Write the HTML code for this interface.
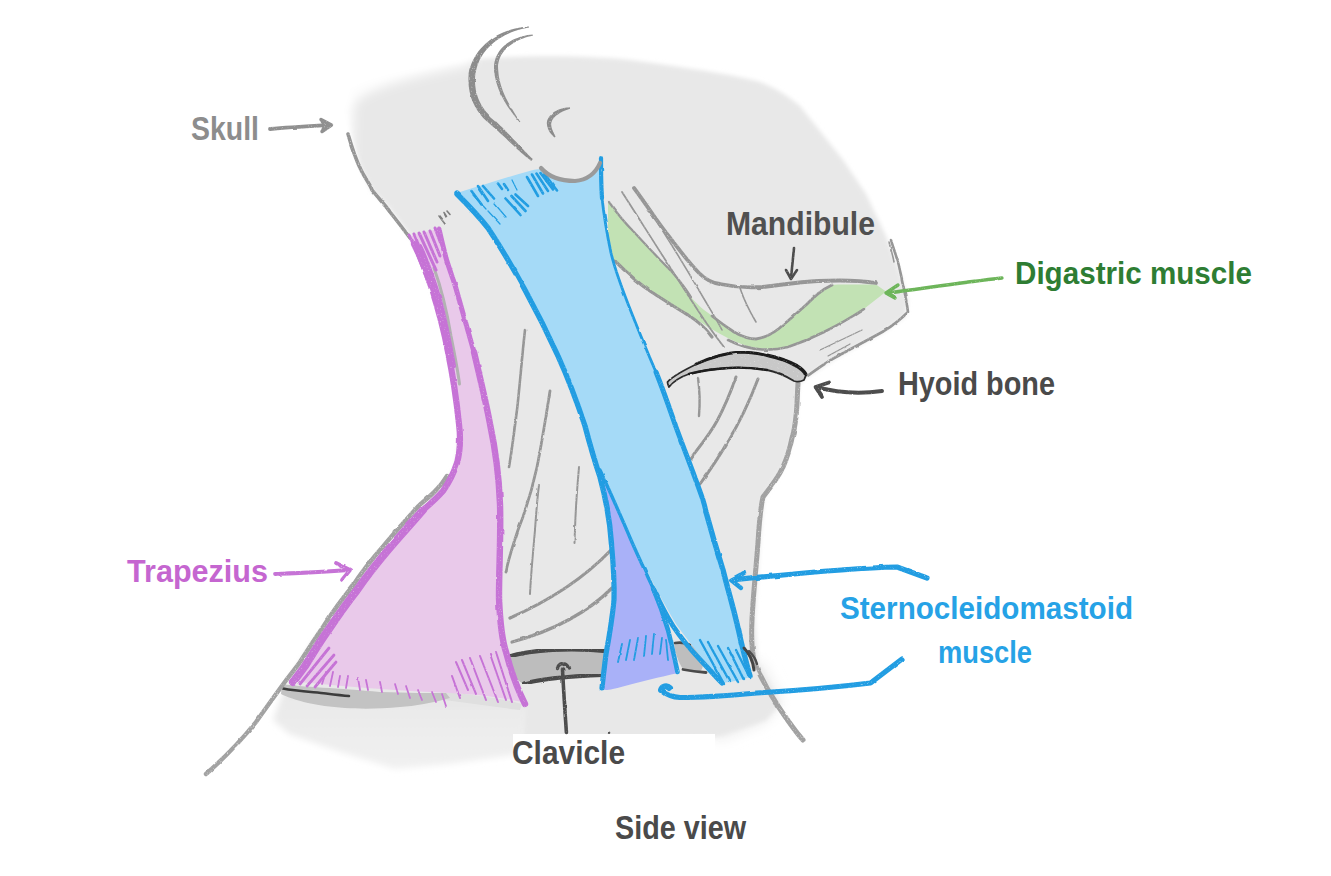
<!DOCTYPE html>
<html>
<head>
<meta charset="utf-8">
<title>Side view of neck muscles</title>
<style>
  html, body { margin: 0; padding: 0; background: #ffffff; }
  body { width: 1331px; height: 876px; overflow: hidden; font-family: "Liberation Sans", sans-serif; }
  svg { display: block; }
  text { font-family: "Liberation Sans", sans-serif; font-weight: bold; }
</style>
</head>
<body>
<svg width="1331" height="876" viewBox="0 0 1331 876">
  <defs>
    <filter id="soft" x="-5%" y="-5%" width="110%" height="110%"><feGaussianBlur stdDeviation="2.2"/></filter>
    <filter id="soft1" x="-5%" y="-5%" width="110%" height="110%"><feGaussianBlur stdDeviation="0.6"/></filter>
    <filter id="soft3" x="-10%" y="-10%" width="120%" height="120%"><feGaussianBlur stdDeviation="3"/></filter>
    <filter id="soft7u" filterUnits="userSpaceOnUse" x="290" y="10" width="300" height="240"><feGaussianBlur stdDeviation="6"/></filter>
    <filter id="soft6" x="-10%" y="-10%" width="120%" height="120%"><feGaussianBlur stdDeviation="7"/></filter>
    <filter id="rough" x="-2%" y="-2%" width="104%" height="104%" filterUnits="objectBoundingBox">
      <feTurbulence type="fractalNoise" baseFrequency="0.09" numOctaves="2" seed="7" result="n"/>
      <feDisplacementMap in="SourceGraphic" in2="n" scale="2.2" xChannelSelector="R" yChannelSelector="G" result="d"/>
      <feTurbulence type="fractalNoise" baseFrequency="0.7" numOctaves="2" seed="3" result="g"/>
      <feColorMatrix in="g" type="matrix" values="0 0 0 0 0  0 0 0 0 0  0 0 0 0 0  0 0 0 -2.4 2.45" result="gm"/>
      <feComposite in="d" in2="gm" operator="in"/>
    </filter>
    <filter id="rough2" x="-2%" y="-2%" width="104%" height="104%" filterUnits="objectBoundingBox">
      <feTurbulence type="fractalNoise" baseFrequency="0.08" numOctaves="2" seed="11" result="n"/>
      <feDisplacementMap in="SourceGraphic" in2="n" scale="2" xChannelSelector="R" yChannelSelector="G" result="d"/>
      <feTurbulence type="fractalNoise" baseFrequency="0.7" numOctaves="2" seed="5" result="g"/>
      <feColorMatrix in="g" type="matrix" values="0 0 0 0 0  0 0 0 0 0  0 0 0 0 0  0 0 0 -2.4 2.55" result="gm"/>
      <feComposite in="d" in2="gm" operator="in"/>
    </filter>
    <linearGradient id="shade" x1="0" y1="0" x2="0" y2="1">
      <stop offset="0" stop-color="#e8e8e8"/>
      <stop offset="1" stop-color="#f1f1f1"/>
    </linearGradient>
  </defs>
  <rect width="1331" height="876" fill="#ffffff"/>

  <!-- ===== grey head / neck silhouette ===== -->
  <g id="silhouette">
    <!-- lower shoulder shadow -->
    <path filter="url(#soft6)" fill="#ebebeb" d="M700,700 L716,741 L764,722 L782,702 L760,660 Z"/>
    <path filter="url(#soft3)" fill="url(#shade)" d="M284,690 L273,720 L289,734 L340,752 L395,769 L450,764 L514,755 L524,748 L528,700 L400,690 Z"/>
    <path filter="url(#soft)" fill="#e8e8e8" d="M352,92 C362,82 400,72 471,60 C520,55 580,55 630,60 C690,68 740,76 760,82 C780,90 790,98 800,106 L843,160 L866,194 L886,236 L900,272 L908,300 L906,316 L884,332 L838,357 L806,378 L799,384 L797,416 L793,438 L784,467 L764,497 L760,541 L755,620 L758,663 L780,704 L766,720 L716,737 L522,746 L524,708 L420,708 L300,700 L286,682 L312,642 L349,596 L389,550 L437,494 L455,467 L460,433 L455,387 L445,330 L428,276 L410,236 L389,208 L371,190 L360,166 L350,134 L346,110 Z"/>
    <path filter="url(#soft7u)" fill="none" stroke="#ffffff" stroke-width="17" stroke-linecap="round" stroke-linejoin="round" d="M343,160 L345,104 C350,84 400,70 466,57"/>
  </g>

  <!-- ===== clavicle + shoulder band ===== -->
  <g id="clavicle">
    <!-- shoulder band under trapezius -->
    <path filter="url(#soft1)" fill="#dfdfdf" d="M440,692 C470,694 500,698 522,704 L520,710 C495,707 470,703 444,700 Z"/>
    <path filter="url(#soft1)" fill="#c3c3c3" d="M282,684 C300,687 340,688 380,692 C410,693 430,693 446,693 L450,698 C432,703 415,706 400,707 C380,709 360,709 345,708 C330,707 318,705 308,703 C296,700 287,697 281,694 Z"/>
    <path fill="none" stroke="#3c3c3c" stroke-width="2.6" stroke-linecap="round" d="M283,688.5 C295,691 312,692 326,693.5 C334,694.5 342,695.5 349,696"/>
    <!-- clavicle main -->
    <path fill="#bdbdbd" d="M508,657 C530,650 570,647 610,651 L604,676 C570,676 540,678 523,684 C512,676 508,666 508,657 Z"/>
    <path filter="url(#rough2)" fill="none" stroke="#484848" stroke-width="4.2" stroke-linecap="round" d="M509,656.5 C530,650 570,647 610,651.5"/>
    <path filter="url(#rough2)" fill="none" stroke="#484848" stroke-width="4.2" stroke-linecap="round" d="M524,683.5 C545,678 575,676 603,675"/>
    <!-- clavicle segment between heads -->
    <path fill="#bebebe" d="M674,643 C680,642 688,643 693,646 C699,650 703,656 703,663 C703,667 702,670 700,671 L683,669 C678,662 675,652 674,643 Z"/>
    <path fill="none" stroke="#4a4a4a" stroke-width="2.6" stroke-linecap="round" d="M675,643 C682,642 686,643 690,645"/>
    <path fill="none" stroke="#4a4a4a" stroke-width="2.8" stroke-linecap="round" d="M683,669.5 C690,671 698,672 706,672.5"/>
    <!-- clavicle right end -->
  </g>

  <!-- ===== digastric (green) – drawn under pencil lines ===== -->
  <g id="digastric">
    <path fill="#c2e2b4" d="M608,201 C614,210 620,217 627,224 C634,232 640,239 647,246 C655,254 662,262 670,270 C678,279 684,288 690,296 C700,308 708,313 716,318 C722,323 728,328 734,332 C741,336 748,339 756,339 C764,338 772,334 779,328.5 C788,321 797,313 806,305 C814,297 821,290 828,286 C833,284.5 837,284.5 841,284.5 L876,284.5 L886,291.5 C878,298 869,305 860,312 C848,320 836,326 824,332 C812,338 800,343 788,346.5 C779,349 770,349.5 761,348.5 C752,347.5 743,345 734,341 C724,336 716,332 708,327 C700,321 690,316 681,311 C668,304 656,296 644,287 C632,278 622,268 613,260 C610,250 608,238 608,226 Z"/>
  </g>

  <!-- ===== grey pencil lines ===== -->
  <g id="pencil" filter="url(#rough)" fill="none" stroke="#969696" stroke-width="3.8" stroke-linecap="round" stroke-linejoin="round">
    <!-- ear -->
    <path d="M528.9,26.4 L525.1,26.7 L521.4,27.2 L517.7,27.9 L514.1,28.7 L510.5,29.7 L507.0,30.9 L503.6,32.2 L500.3,33.7 L497.2,35.3 L494.1,37.1 L491.2,39.1 L488.4,41.2 L485.7,43.5 L483.2,45.9 L480.8,48.4 L478.6,51.1 L476.6,53.9 L474.7,56.9 L473.1,60.0 L471.6,63.2 L470.4,66.5 L469.4,69.9 L468.7,73.5 L468.5,76.4 L468.4,79.1 L468.5,81.7 L468.6,84.3 L468.8,86.8 L469.2,89.3 L469.6,91.7 L470.2,94.1 L470.8,96.4 L471.5,98.7 L472.4,100.9 L473.3,103.0 L474.3,105.1 L475.3,107.2 L476.5,109.1 L477.7,111.0 L479.0,112.8 L480.3,114.6 L481.8,116.3 L483.2,117.9 L484.8,119.5 L486.4,121.0 L488.0,122.3 L490.0,124.1 L492.1,125.9 L494.2,127.7 L496.2,129.5 L498.2,131.3 L500.2,133.2 L502.2,135.0 L504.2,136.8 L506.1,138.6 L508.0,140.4 L509.9,142.2 L511.8,144.0 L513.7,145.8 L515.5,147.5 L517.3,149.2 L519.1,150.8 L520.9,152.4 L522.7,154.0 L524.5,155.5 L526.2,156.9 L527.9,158.3 L529.6,159.6 L531.2,160.9 L532.8,159.1 L531.3,157.7 L529.8,156.2 L528.2,154.7 L526.7,153.1 L525.1,151.5 L523.5,149.8 L521.8,148.0 L520.2,146.3 L518.5,144.5 L516.8,142.6 L515.0,140.8 L513.2,138.9 L511.4,137.0 L509.6,135.1 L507.8,133.2 L505.9,131.2 L504.0,129.3 L502.1,127.3 L500.1,125.4 L498.1,123.4 L496.1,121.5 L494.1,119.6 L492.0,117.7 L490.5,116.4 L489.1,115.0 L487.8,113.6 L486.5,112.2 L485.3,110.7 L484.1,109.1 L482.9,107.5 L481.9,105.8 L480.9,104.1 L480.0,102.3 L479.1,100.5 L478.3,98.6 L477.6,96.6 L477.0,94.6 L476.4,92.6 L475.9,90.5 L475.6,88.3 L475.3,86.1 L475.1,83.8 L475.0,81.5 L475.0,79.2 L475.1,76.8 L475.3,74.5 L475.9,71.4 L476.6,68.3 L477.5,65.3 L478.6,62.4 L479.8,59.6 L481.3,56.9 L483.0,54.3 L484.8,51.7 L486.8,49.3 L489.0,46.9 L491.3,44.7 L493.8,42.5 L496.4,40.5 L499.1,38.7 L502.0,36.9 L505.0,35.2 L508.2,33.7 L511.4,32.3 L514.8,31.1 L518.2,30.0 L521.7,29.0 L525.4,28.2 L529.1,27.6 Z" fill="#8c8c8c" stroke="none"/>
    <path d="M532.9,34.4 L530.2,34.7 L527.5,35.1 L524.8,35.7 L522.3,36.3 L519.8,37.0 L517.4,37.9 L515.1,38.8 L512.8,39.8 L510.7,40.9 L508.7,42.2 L506.8,43.6 L505.0,45.0 L503.3,46.5 L501.8,48.1 L500.3,49.8 L499.0,51.6 L497.8,53.4 L496.8,55.4 L495.9,57.3 L495.2,59.4 L494.6,61.5 L494.2,63.7 L494.0,65.9 L494.0,68.7 L494.1,71.4 L494.5,74.0 L494.9,76.6 L495.5,79.2 L496.1,81.7 L496.9,84.3 L497.7,86.8 L498.6,89.3 L499.6,91.7 L500.7,94.2 L501.9,96.6 L503.2,99.0 L504.5,101.4 L505.9,103.8 L507.4,106.2 L509.0,108.5 L510.6,110.8 L512.3,113.1 L514.1,115.4 L515.9,117.7 L517.7,120.0 L519.6,122.3 L520.4,121.7 L518.7,119.3 L517.0,116.9 L515.4,114.5 L513.9,112.1 L512.4,109.6 L511.0,107.2 L509.6,104.8 L508.3,102.4 L507.0,100.1 L505.8,97.7 L504.7,95.3 L503.7,92.9 L502.7,90.5 L501.9,88.1 L501.1,85.7 L500.4,83.2 L499.8,80.8 L499.3,78.4 L498.8,75.9 L498.5,73.5 L498.3,71.0 L498.1,68.5 L498.0,66.1 L498.2,64.2 L498.5,62.4 L499.0,60.5 L499.6,58.7 L500.3,57.0 L501.1,55.3 L502.1,53.7 L503.3,52.1 L504.5,50.6 L505.9,49.1 L507.3,47.7 L508.9,46.3 L510.7,45.0 L512.5,43.8 L514.4,42.6 L516.4,41.4 L518.5,40.3 L520.7,39.3 L523.0,38.4 L525.4,37.6 L527.9,36.8 L530.4,36.2 L533.1,35.6 Z" fill="#909090" stroke="none"/>
    <path d="M569.9,107.2 L568.3,107.4 L566.7,107.6 L565.2,107.8 L563.7,108.1 L562.3,108.4 L560.9,108.8 L559.5,109.3 L558.2,109.7 L557.0,110.3 L555.8,110.9 L554.7,111.6 L553.6,112.3 L552.7,113.1 L551.7,113.9 L550.9,114.7 L550.1,115.6 L549.4,116.5 L548.7,117.5 L548.1,118.4 L547.6,119.4 L547.2,120.5 L547.0,121.6 L546.8,122.8 L546.9,123.9 L547.0,124.7 L547.1,125.5 L547.2,126.3 L547.4,127.1 L547.7,127.8 L547.9,128.6 L548.2,129.3 L548.5,129.9 L548.8,130.6 L549.1,131.2 L549.5,131.8 L549.8,132.4 L550.3,133.0 L550.7,133.5 L551.1,134.1 L551.6,134.6 L552.0,135.1 L552.5,135.6 L553.0,136.1 L553.4,136.5 L553.9,137.0 L554.4,137.5 L555.6,136.5 L555.3,135.9 L555.0,135.4 L554.7,134.8 L554.4,134.2 L554.1,133.7 L553.8,133.1 L553.6,132.5 L553.3,131.9 L553.1,131.4 L552.8,130.8 L552.6,130.2 L552.3,129.7 L552.1,129.1 L551.9,128.6 L551.7,128.0 L551.6,127.4 L551.5,126.8 L551.3,126.2 L551.3,125.6 L551.2,125.0 L551.2,124.3 L551.2,123.7 L551.2,123.2 L551.4,122.6 L551.6,121.9 L551.8,121.2 L552.1,120.5 L552.5,119.8 L553.0,119.1 L553.5,118.3 L554.0,117.7 L554.7,117.0 L555.4,116.3 L556.2,115.6 L557.0,115.0 L557.9,114.4 L558.9,113.7 L559.9,113.1 L561.0,112.4 L562.1,111.8 L563.3,111.2 L564.5,110.7 L565.8,110.2 L567.2,109.7 L568.6,109.2 L570.1,108.8 Z" fill="#8c8c8c" stroke="none"/>
    <!-- skull/back of head -->
    <path d="M348,134 C352,148 356,160 361,170 C366,180 370,184 372,190 C380,200 386,206 390,212 C398,222 404,230 410,238" stroke-width="3.6"/>
    <path stroke="#7e7e7e" d="M439,216 L445,224 M444,212.5 L446.5,216.5 M447,211 L450,214.5" stroke-width="1.6"/>
    <!-- back of neck along trapezius -->
    <!-- neck front -->
    <path stroke="#a2a2a2" stroke-width="5" d="M798,383 C797,400 797,410 796,416 C795,426 794,432 792,438 C790,448 787,458 783,467 C778,478 770,488 763,497 C760,510 759,526 758,542 C756,570 753,596 752,620 C751,640 752,654 755,664 C762,680 770,694 778,706 C786,718 794,730 803,740"/>
    <!-- chin / jaw -->
    <path d="M891,240 C894,250 897,258 899,266 C902,280 906,296 908,312 C900,320 892,326 884,331 C868,340 852,348 838,356 C826,362 816,370 806,377" stroke-width="2.6"/>
    <path d="M889,242 C891,250 893,256 894,262" stroke-width="1.6"/>
    <path d="M862,330 L820,350 M850,344 L828,356" stroke-width="1.3"/>
    <!-- mandible -->
    <path d="M634,188 C646,204 656,220 667,234 C678,248 688,262 699,273 C706,280 712,283 720,284 C734,287 748,288 762,287 C780,285 800,282 818,281 C840,280 858,280 876,283"/>
    <path d="M622,192 C640,220 660,252 686,292 C700,314 712,332 724,347" stroke-width="1.8"/>
    <path d="M644,202 C660,226 680,258 700,292 C708,306 716,318 722,330" stroke-width="1.6"/>
    <!-- lower digastric outline -->
    <path d="M609,202 C616,212 624,222 634,232 C646,245 660,260 672,272 C680,281 686,289 691,297" stroke-width="2.2"/>
    <path d="M614,260 C626,272 638,283 650,291 C664,300 676,308 688,315 C696,320 704,326 712,337" stroke-width="3.2"/>
    <path d="M712,316 C722,324 728,328 734,332 C741,336 748,339 756,339 C764,338 772,334 779,328.5 C788,321 797,313 806,305 C814,297 821,290 832,285" stroke-width="2.8"/>
    <path d="M728,340 C740,346 752,349 762,349.5 C772,350 780,349 788,347 C800,343 812,338 824,332 C838,325 852,317 864,309" stroke-width="2.6"/>
    <path d="M740,288 C744,300 750,312 756,322" stroke-width="1.6"/>
    <!-- anterior neck folds -->
    <path d="M698,378 C700,392 700,404 699,416" stroke-width="2.4"/>
    <path d="M736,377 C730,394 724,408 717,421 C710,434 700,446 691,458" stroke-width="3"/>
    <path d="M758,379 C750,400 740,422 728,441 C720,456 710,470 700,484" stroke-width="3"/>
    <!-- mid neck lines -->
    <path d="M525,330 C522,356 520,384 517,410 C514,432 512,450 509,467" stroke-width="2.6"/>
    <path d="M550,391 C546,416 542,442 537,467 C532,490 526,510 518,530 C512,548 508,560 506,572" stroke-width="2.8"/>
    <path d="M579,467 C577,490 575.5,510 575,530 C574.7,536 574.5,540 574.5,543" stroke-width="2"/>
    <path d="M539,485 C537,500 536,516 535,530 C533,552 531,574 530,594" stroke-width="2"/>
    <!-- lower sweeping lines -->
    <path d="M611,550 C590,572 560,596 510,618" stroke-width="3.2"/>
    <path d="M612,588 C590,610 556,630 512,642" stroke-width="3.2"/>
  </g>

  <!-- ===== trapezius ===== -->
  <g id="trapezius">
    <path fill="#e9c9ea" d="M410,236 L438,229 C443,248 449,268 455,286 C462,310 468,330 472,350 C478,376 484,402 488,420 C494,450 498,476 499,500 C500,530 498,566 498,600 C500,624 502,640 505,650 C510,670 517,688 523,702 C500,697 470,693.5 430,692 C390,690 340,686 288,681 C293,676 300,670 305,666 C312,655 319,643 327.8,630.7 C337,617 346,604 356.7,590.5 C366,577 377,563 388,550 C399,537 411,524 423,510 C430,504 436,499 443,491 C448.5,483 453.5,474 457,463 C460,452 461,440 460,430 C459,418 457,402 455,387 C452,368 449,348 445,330 C440,310 434,292 428,276 C422,260 416,246 410,236 Z"/>
    <path fill="none" stroke="#b2b2b2" stroke-width="3" stroke-linecap="round" d="M434,268 C442,290 447,312 451,336 C455,356 458,372 459.5,384"/>
    <path filter="url(#rough)" fill="none" stroke="#a2a2a2" stroke-width="4.4" stroke-linecap="round" d="M447,476 C444,481 441,485 437,489 C431,496 425,500 418.5,506 C406,520 394,533 383.5,546 C372,559 361,573 352,587 C341,600 332,613 323,627 C314,640 307,651 300,662 C295,669 291,674 287,679 C276,694 266,708 256,722 C240,742 222,760 206,774"/>
    <g filter="url(#rough2)" fill="none" stroke="#c673d6" stroke-linecap="round" stroke-linejoin="round">
      <!-- left (outer) edge -->
      <path stroke-width="6.2" d="M414,244 C420,256 426,270 431,286 C438,308 444,330 448,352 C453,376 456.5,400 459,424 C461,440 460,452 457,463 C453.5,474 448.5,483 443,491 C436,499 430,504 423,510"/>
      <path stroke-width="8" d="M423,510 C411,524 399,537 388,550 C377,563 366,577 356.7,590.5 C346,604 337,617 327.8,630.7 C319,643 312,655 305,666 C300,673 296,678 293,682"/>
      <path stroke-width="4" d="M420,246 C428,262 434,280 440,300 C446,322 450,344 454,366"/>
      <!-- right (inner) edge -->
      <path stroke-width="5" d="M439,229 C442,242 444,250 446,258 C449,268 452,276 455,285 C460,302 467,328 474,352"/>
      <path stroke-width="6.4" d="M474,352 C480,378 486,402 490,424 C496,452 499,478 500,504 C501,534 499,566 499,598 C500,622 502,640 506,652 C511,672 518,690 525,704"/>
      <!-- top fibers -->
      <path stroke-width="3" d="M409,235 L424,268 M414,234 L430,272 M419,233 L436,270 M424,232 L437,262 M430,231 L440,256 M435,228 L444,252 M412,240 L428,282"/>
      <!-- bottom fibers -->
      <path stroke-width="2.8" d="M295,682 L322,643 M300,684 L329,648 M307,686 L334,655 M315,687 L336,662"/>
      <path stroke-width="1.8" d="M322,684 L326,672 M330,686 L333,672 M338,687 L340,676 M346,688 L348,676 M360,690 L358,678 M368,690 L366,680 M382,692 L380,682 M398,694 L395,684 M410,698 L406,686 M422,700 L418,690 M436,702 L432,692 M446,706 L442,694"/>
      <path stroke-width="2" d="M456,662 L468,690 M462,660 L476,694 M470,658 L486,700 M480,656 L498,702 M490,654 L506,700 M496,652 L512,702 M452,676 L460,698"/>
    </g>
  </g>

  <!-- ===== sternocleidomastoid ===== -->
  <g id="scm">
    <!-- clavicular head -->
    <path fill="#a9b1f8" d="M598,468 C604,490 608.5,514 611,540 C613,562 614,584 614,598 C612,620 608,640 606,654 C604,668 602,680 601,688 C603,691.5 610,690 623,686.5 C640,682 660,677 678,673 C674,658 671,644 667,630 C663,616 658,600 651,583 C644,568 637,553 631,540 C620,514 610,492 600,470 Z"/>
    <!-- sternal head + main belly -->
    <path fill="#a5daf7" d="M457,193 C480,186 504,178 526,172 C532,170 537,169 541,169 C548,176 560,181 575,181 C588,180 597,172 601,160 C601,172 601,184 601,196 C604,216 607,234 611,253 C616,274 624,294 632,314 C640,334 648,354 656,372 C664,392 670,410 676,427 C684,449 694,474 703,500 C704.5,505 705.5,509 706,512 C712,534 718,554 723,570 C728,590 734,610 738,628 C742,646 746,662 750,677 C742,680 732,682 722,683 C708,666 692,646 676,624 C664,604 650,578 640,556 C632,540 620,510 600,470 C592,454 586,438 580,413 C574,400 572,392 570,387 C564,368 555,350 545,330 C535,312 523,290 511,266 C501,246 490,230 480,218 C471,208 463,200 457,193 Z"/>
    <g filter="url(#rough2)" fill="none" stroke="#209de2" stroke-linecap="round" stroke-linejoin="round">
      <!-- left edge main -->
      <path stroke-width="5.4" d="M457,194 C466,203 477,214 488,228 C500,246 513,268 525,290 C537,312 548,334 558,356 C568,378 577,402 585,426 C591,449 596,465 600,477 C606,499 610,522 611.5,544"/>
      <path stroke-width="5.2" d="M611.5,544 C613.5,566 614.5,584 614,600 C612,620 609,638 606,654 C604.5,666 603,678 602,688"/>
      <!-- right edge -->
      <path stroke-width="4.2" d="M601,158 C601,172 601,184 602,198"/>
      <path stroke-width="2.8" d="M602,198 C604,216 607,234 611,253 C616,274 624,294 632,314 C640,334 648,354 656,372"/>
      <path stroke-width="5" d="M656,372 C664,392 670,410 676,427 C684,449 694,474 703,500 C704.5,505 705.5,509 706,512"/>
      <path stroke-width="5.4" d="M706,512 C712,534 718,554 723,570 C728,590 734,610 738,628 C742,646 746,662 750,676"/>
      <!-- sternal head left edge -->
      <path stroke-width="3.4" d="M600,470 C610,492 620,514 631,540 C638,556 646,573 654,590"/>
      <path stroke-width="5" d="M654,590 C660,603 666,615 673,626 C681,638 690,649 700,659.5 C708,668 715,676 722,683"/>
      <!-- clavicular head right edge -->
      <path stroke-width="4.6" d="M653,588 C659,602 664,616 668,630 C672,646 675,660 677.5,672"/>
      <!-- top fibers -->
      <path stroke-width="2.6" d="M478,186 L488,201 M483,186 L494,198.5 M471.5,191 L481.5,204.5 M498,183.5 L502,189 M504,184 L508,190 M532,174.5 L543,193.5 M536.5,173.5 L548,191 M540.5,173 L553,189.5 M544.5,174 L557,190.5 M527,177 L538,196 M511.5,196 L525.5,211 M505.5,198.5 L520.5,215 M515.5,194.5 L528,206"/>
      <path stroke-width="1.2" d="M473,195 L486,209 M488,211 L500,224 M512,180 L517,190 M494,203 L506,217"/>
      <!-- bottom fibers of clavicular head -->
      <path stroke-width="1.8" d="M618,662 L622,644 M626,660 L630,640 M634,660 L638,638 M644,656 L646,636 M652,654 L654,634 M660,654 L662,638 M668,660 L666,640"/>
      <!-- bottom fibers of sternal head -->
      <path stroke-width="2.4" d="M700,640 L724,684 M708,642 L730,682 M718,646 L738,682 M728,648 L744,680 M736,650 L750,678"/>
    </g>
  </g>

  <path fill="none" stroke="#9a9a9a" stroke-width="4.2" stroke-linecap="round" d="M541,168 C548,176 560,181 575,181 C588,180 596,172 600,163"/>

  <path fill="none" stroke="#444" stroke-width="3" stroke-linecap="round" d="M744,648 C750,654 753,662 754,670"/>
  <path fill="none" stroke="#4c4c4c" stroke-width="2.4" stroke-linecap="round" d="M749,651 C753,655 756,660 757,664"/>

  <!-- ===== hyoid ===== -->
  <g id="hyoid" filter="url(#rough2)">
    <path fill="#c8c8c8" stroke="#2a2a2a" stroke-width="1.8" stroke-linejoin="round" d="M667.5,382 C672,377 684,370 699,363 C712,357 726,353 740,352 C752,352 760,354 768,355.5 C780,358 790,362 797,366 C802,369 805,372 806,375 L804,380 C800,382 797,382 794,381 C786,376 777,372 767,370 C754,368 740,367 728,368 C714,369 700,371 689,374 C680,377 673,382 669,387 C668,385 667.5,384 667.5,382 Z"/>
    <path fill="none" stroke="#1c1c1c" stroke-width="2.8" stroke-linecap="round" d="M696,364 C712,357 726,353 740,352 C752,352 760,354 768,355.5"/>
    <path fill="none" stroke="#1c1c1c" stroke-width="3.8" stroke-linecap="round" d="M768,355.5 C780,358 790,362 797,366 C801,368.5 804,371 805.5,374"/>
    <path fill="none" stroke="#1c1c1c" stroke-width="2.4" stroke-linecap="round" d="M689,374 C700,371 714,369 728,368 C740,367 754,368 767,370"/>
  </g>

  <!-- ===== white box behind Clavicle label ===== -->
  <rect x="513" y="734" width="202" height="40" fill="#ffffff"/>

  <!-- ===== arrows ===== -->
  <g id="arrows" filter="url(#rough2)" fill="none" stroke-linecap="round" stroke-linejoin="round">
    <!-- skull -->
    <path stroke="#909090" stroke-width="3.8" d="M270,129 C290,127 310,126 328,125"/>
    <path stroke="#909090" stroke-width="3.4" fill="#909090" d="M321,119.5 L331.5,125 L322,131.5 L325,125.5 Z"/>
    <!-- trapezius -->
    <path stroke="#c673d6" stroke-width="3.8" d="M275,574 C298,573 322,572 348,570"/>
    <path stroke="#c673d6" stroke-width="3.8" d="M336,563 L350,570 L342,580"/>
    <!-- mandible -->
    <path stroke="#4d4d4d" stroke-width="2.6" d="M794,248 C793,258 792,268 791,278"/>
    <path stroke="#4d4d4d" stroke-width="2.6" d="M786,270 L791,279 L797,270"/>
    <!-- digastric -->
    <path stroke="#6db55a" stroke-width="3.4" d="M1002,278 C966,282 926,288 888,293"/>
    <path stroke="#6db55a" stroke-width="3.4" d="M898,285 L886,293 L895,298"/>
    <!-- hyoid -->
    <path stroke="#4d4d4d" stroke-width="4" d="M882,391 C860,394 838,393 816,387"/>
    <path stroke="#4d4d4d" stroke-width="3.8" d="M829,382.5 L815.5,387 L822,397"/>
    <!-- clavicle -->
    <path stroke="#4d4d4d" stroke-width="3.6" d="M566.4,732.4 C565,712 563.5,690 562.5,669"/>
    <path stroke="#4d4d4d" stroke-width="3.4" d="M557.5,668.5 C558.5,664 561.5,663 563,664.5 C565,663 567.5,665 568.5,668"/>
    <circle cx="609" cy="732.8" r="1.3" fill="#555" stroke="none"/>
    <!-- scm upper -->
    <path stroke="#209de2" stroke-width="5.2" d="M927,578 L897,567 C850,568 790,574 732,580"/>
    <path stroke="#209de2" stroke-width="4.4" d="M744,573 L731,580 L741,588"/>
    <!-- scm lower -->
    <path stroke="#209de2" stroke-width="5.2" d="M902,659 L870.5,683 C830,688 790,691 757,693 C730,695.5 700,697.5 680,697.5 C672,697 666,694 662,690.5"/>
    <path stroke="#209de2" stroke-width="6" d="M661,690 C662,686 667,685 670,688"/>
  </g>

  <!-- ===== labels ===== -->
  <g id="labels">
    <text x="191" y="139.5" font-size="32.5" fill="#8d8d8d" textLength="68" lengthAdjust="spacingAndGlyphs">Skull</text>
    <text x="726" y="234.5" font-size="33" fill="#505050" textLength="149" lengthAdjust="spacingAndGlyphs">Mandibule</text>
    <text x="1015" y="283.5" font-size="31" fill="#2e7d33" textLength="237" lengthAdjust="spacingAndGlyphs">Digastric muscle</text>
    <text x="898" y="394.5" font-size="32.5" fill="#4a4a4a" textLength="157" lengthAdjust="spacingAndGlyphs">Hyoid bone</text>
    <text x="127" y="582" font-size="31" fill="#c566d0" textLength="141" lengthAdjust="spacingAndGlyphs">Trapezius</text>
    <text x="840" y="619" font-size="31.5" fill="#26a2e6" textLength="293" lengthAdjust="spacingAndGlyphs">Sternocleidomastoid</text>
    <text x="938" y="663" font-size="31.5" fill="#26a2e6" textLength="94" lengthAdjust="spacingAndGlyphs">muscle</text>
    <text x="512" y="763.5" font-size="32.5" fill="#4a4a4a" textLength="113" lengthAdjust="spacingAndGlyphs">Clavicle</text>
    <text x="615" y="838.5" font-size="32.5" fill="#4a4a4a" textLength="131" lengthAdjust="spacingAndGlyphs">Side view</text>
  </g>

  <!-- LAYERS3 -->
</svg>
</body>
</html>
